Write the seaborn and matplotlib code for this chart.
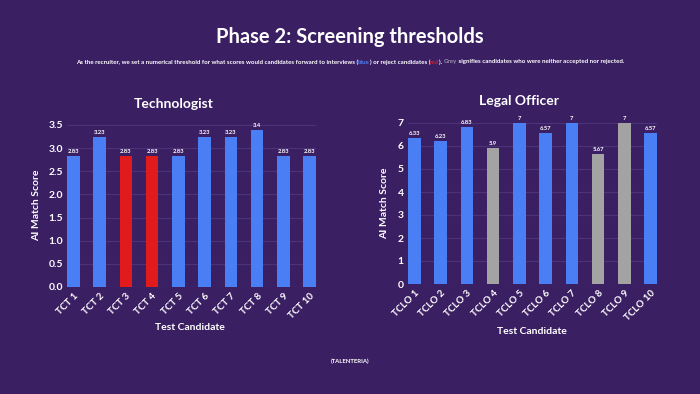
import matplotlib
matplotlib.use("Agg")
import matplotlib.pyplot as plt
import seaborn as sns
import pandas as pd

# ---- data ----
tech_candidates = ["TCT 1", "TCT 2", "TCT 3", "TCT 4", "TCT 5", "TCT 6", "TCT 7", "TCT 8", "TCT 9", "TCT 10"]
tech_scores = [2.83, 3.23, 2.83, 2.83, 2.83, 3.23, 3.23, 3.4, 2.83, 2.83]
tech_status = ["accept", "accept", "reject", "reject", "accept", "accept", "accept", "accept", "accept", "accept"]

legal_candidates = ["TCLO 1", "TCLO 2", "TCLO 3", "TCLO 4", "TCLO 5", "TCLO 6", "TCLO 7", "TCLO 8", "TCLO 9", "TCLO 10"]
legal_scores = [6.33, 6.23, 6.83, 5.9, 7, 6.57, 7, 5.67, 7, 6.57]
legal_status = ["accept", "accept", "accept", "neutral", "accept", "accept", "accept", "neutral", "neutral", "accept"]

tech_yticks = [0.0, 0.5, 1.0, 1.5, 2.0, 2.5, 3.0, 3.5]
legal_yticks = [0, 1, 2, 3, 4, 5, 6, 7]

# ---- style ----
BG = "#3b1f63"
GRID = "#4c3276"
WHITE = "#ffffff"
status_colors = {"accept": "#4a7ef5", "reject": "#e11b1c", "neutral": "#a3a3a3"}
FONT = ["Lato", "DejaVu Sans"]

sns.set_theme(style="dark")
plt.rcParams["font.family"] = FONT
plt.rcParams["text.color"] = WHITE

fig = plt.figure(figsize=(7, 3.94), dpi=100, facecolor=BG)

def draw(ax, cats, vals, status, yticks, ylim, fmt):
    df = pd.DataFrame({"cand": cats, "score": vals, "status": status})
    ax.set_facecolor(BG)
    sns.barplot(data=df, x="cand", y="score", hue="status", palette=status_colors,
                dodge=False, width=0.48, legend=False, ax=ax, saturation=1,
                edgecolor=None, linewidth=0, zorder=3)
    ax.set_xlim(-0.24, 9.24)
    ax.set_ylim(*ylim)
    ax.set_yticks(yticks)
    ax.set_yticklabels([fmt(t) for t in yticks], color=WHITE, fontsize=7.5, fontweight="bold")
    ax.yaxis.grid(True, color=GRID, linewidth=0.8, zorder=0)
    ax.xaxis.grid(False)
    for s in ax.spines.values():
        s.set_visible(False)
    ax.tick_params(axis="both", length=0, pad=3)
    ax.set_xticks(range(len(cats)))
    ax.set_xticklabels(cats, rotation=45, ha="right", rotation_mode="anchor",
                       color=WHITE, fontsize=7, fontweight="bold")
    ax.set_xlabel("")
    ax.set_ylabel("")
    for i, v in enumerate(vals):
        ax.text(i, v + (ylim[1] - ylim[0]) * 0.012, f"{v:g}", ha="center", va="bottom",
                fontsize=4.2, color=WHITE, fontweight="bold")

ax1 = fig.add_axes([67 / 700, 107 / 394, 249 / 700, 164.4 / 394])
draw(ax1, tech_candidates, tech_scores, tech_status, tech_yticks, (0, 3.55),
     lambda t: f"{t:.1f}")
ax2 = fig.add_axes([408 / 700, 110 / 394, 249 / 700, 163.3 / 394])
draw(ax2, legal_candidates, legal_scores, legal_status, legal_yticks, (0, 7.1),
     lambda t: f"{int(t)}")

def ftext(x, y, s, **kw):
    return fig.text(x / 700, 1 - y / 394, s, **kw)

# titles
ftext(350, 37, "Phase 2: Screening thresholds", ha="center", va="center",
      fontsize=14.5, fontweight="bold", color=WHITE)
ftext(174, 104, "Technologist", ha="center", va="center", fontsize=10, fontweight="bold", color=WHITE)
ftext(519, 101, "Legal Officer", ha="center", va="center", fontsize=10, fontweight="bold", color=WHITE)

# axis labels
ftext(190, 328, "Test Candidate", ha="center", va="center", fontsize=7.5, fontweight="bold", color=WHITE)
ftext(532, 331, "Test Candidate", ha="center", va="center", fontsize=7.5, fontweight="bold", color=WHITE)
ftext(37, 205, "AI Match Score", ha="center", va="center", rotation=90, fontsize=7.5, fontweight="bold", color=WHITE)
ftext(385, 203, "AI Match Score", ha="center", va="center", rotation=90, fontsize=7.5, fontweight="bold", color=WHITE)

# footer
ftext(350, 361, "(TALENTERIA)", ha="center", va="center", fontsize=4.3, fontweight="bold", color=WHITE)

# subtitle with coloured words
pieces = [
    ("As the recruiter, we set a numerical threshold for what scores would candidates forward to interviews (", WHITE),
    ("blue", status_colors["accept"]),
    (") or reject candidates (", WHITE),
    ("red", status_colors["reject"]),
    ("). ", WHITE),
    ("Grey", "#9a93a8"),
    (" signifies candidates who were neither accepted nor rejected.", WHITE),
]
fig.canvas.draw()
renderer = fig.canvas.get_renderer()
texts = []
total = 0
for s, c in pieces:
    t = fig.text(0, 1 - 62 / 394, s, color=c, fontsize=4.45, fontweight="bold", va="center", ha="left")
    bb = t.get_window_extent(renderer)
    texts.append((t, bb.width))
    total += bb.width
x = (700 - total) / 2
for t, w in texts:
    t.set_x(x / 700)
    x += w

fig.savefig("out.png", dpi=100, facecolor=BG)
